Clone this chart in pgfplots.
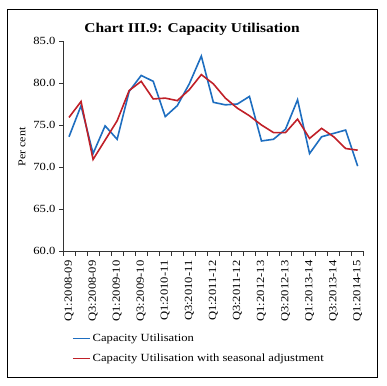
\documentclass[border=0pt]{standalone}
\usepackage{pgfplots}
\pgfplotsset{compat=1.18}
\usepackage{fontspec}
\setmainfont{Liberation Serif}[FakeStretch=1.15]
\definecolor{cublue}{RGB}{30,110,192}
\definecolor{cured}{RGB}{192,32,40}
\pgfplotstableread{
i cu sa
0 73.6 75.9
1 77.3 77.8
2 71.6 70.9
3 74.9 73.2
4 73.3 75.5
5 79.0 79.1
6 80.9 80.2
7 80.2 78.1
8 76.0 78.2
9 77.3 77.9
10 79.9 79.2
11 83.2 81.0
12 77.7 79.9
13 77.4 78.2
14 77.5 77.0
15 78.4 76.1
16 73.1 75.0
17 73.3 74.1
18 74.5 74.1
19 78.0 75.7
20 71.6 73.4
21 73.6 74.6
22 74.0 73.6
23 74.4 72.2
24 70.1 72.0
}\cudata
\begin{document}
\begin{tikzpicture}[x=1bp,y=1bp]
\path (0,0) rectangle (387,386);
\draw[line width=0.9bp] (7,9) rectangle (377,377);
\node[anchor=base,font=\fontsize{13.5}{15}\selectfont\bfseries] at (192,354) {Chart III.9: Capacity Utilisation};
\node[rotate=90,font=\fontsize{10.5}{12}\selectfont] at (22,239) {Per cent};
\begin{axis}[
  at={(63bp,135bp)}, anchor=south west,
  scale only axis, width=300.7bp, height=210bp,
  axis x line=bottom, axis y line=left,
  axis line style={-, line width=0.8bp, black!80},
  xmin=-0.5, xmax=24.5, ymin=60, ymax=85,
  ytick={60,65,...,85},
  yticklabel style={/pgf/number format/fixed, /pgf/number format/fixed zerofill, /pgf/number format/precision=1, /pgf/number format/assume math mode=true},
  ticklabel style={font=\fontsize{11}{12}\selectfont},
  xtick={0,2,...,24},
  xticklabels={Q1:2008-09,Q3:2008-09,Q1:2009-10,Q3:2009-10,Q1:2010-11,Q3:2010-11,Q1:2011-12,Q3:2011-12,Q1:2012-13,Q3:2012-13,Q1:2013-14,Q3:2013-14,Q1:2014-15},
  x tick label style={rotate=90, anchor=east},
  minor xtick={-0.5,0.5,...,24.5},
  major x tick style={draw=none},
  minor x tick style={black!80, line width=0.6bp},
  minor tick length=5bp,
  y tick style={black!80, line width=0.6bp},
  major tick length=4bp,
  tick align=outside,
  xticklabel shift=2bp,
  legend style={at={(0.03,-0.384)}, anchor=north west, draw=none, inner sep=0pt, font=\fontsize{11}{12}\selectfont, row sep=7bp},
  legend cell align=left,
  legend image code/.code={\draw[#1, line width=1.5bp] (0bp,0bp) -- (17bp,0bp);},
]
\addplot[cublue, line width=1.6bp] table[x=i,y=cu] {\cudata};
\addlegendentry{Capacity Utilisation}
\addplot[cured, line width=1.6bp] table[x=i,y=sa] {\cudata};
\addlegendentry{Capacity Utilisation with seasonal adjustment}
\end{axis}
\end{tikzpicture}
\end{document}
